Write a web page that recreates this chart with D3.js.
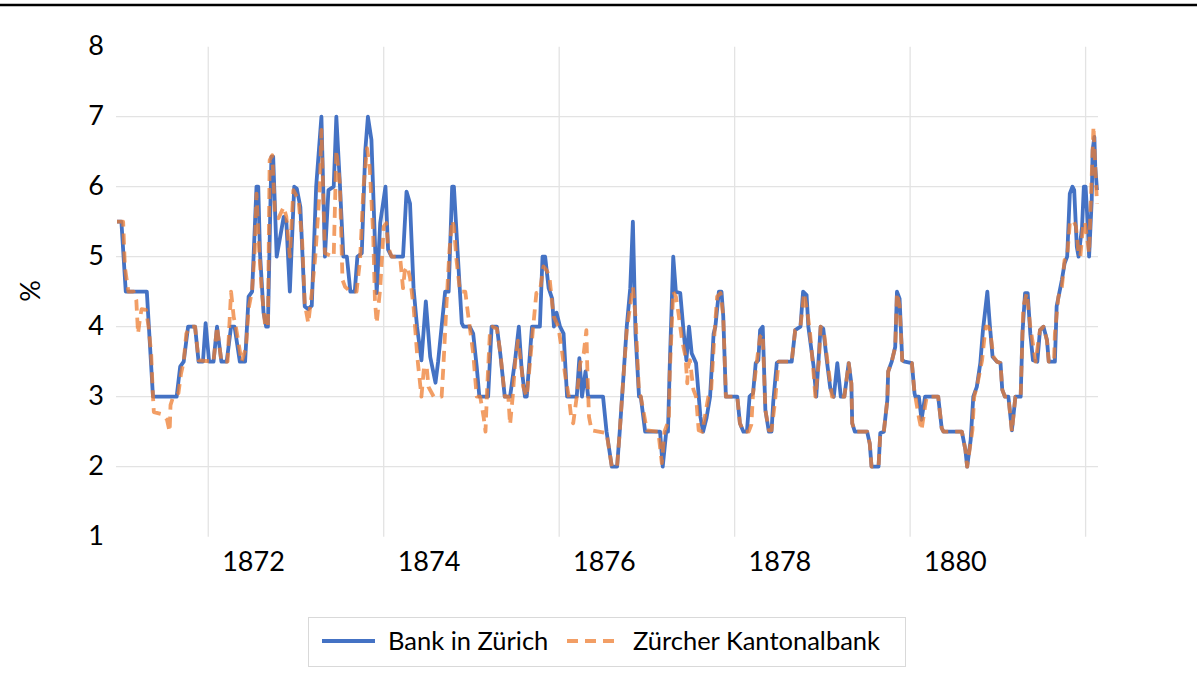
<!DOCTYPE html>
<html>
<head>
<meta charset="utf-8">
<script src="https://cdn.jsdelivr.net/npm/d3@7"></script>
<style>
	html, body { margin: 0; padding: 0; background: #ffffff; }
	svg { display: block; }
	text { font-family: Lato, "Open Sans", sans-serif; fill: #000000; }
</style>
</head>
<body>
<svg id="chart" width="1197" height="691"></svg>
<script>

// Bank in Zürich, discount rate in %, sampled at fractional years
const bankYears = [
	1870.45, 1870.50, 1870.55, 1870.79, 1870.86, 1871.13, 1871.17, 1871.21, 1871.26, 1871.34,
	1871.38, 1871.43, 1871.46, 1871.50, 1871.55, 1871.59, 1871.64, 1871.70, 1871.75, 1871.79,
	1871.85, 1871.91, 1871.95, 1871.99, 1872.04, 1872.06, 1872.08, 1872.12, 1872.15, 1872.17,
	1872.21, 1872.23, 1872.27, 1872.35, 1872.38, 1872.42, 1872.47, 1872.50, 1872.54, 1872.59,
	1872.63, 1872.67, 1872.72, 1872.78, 1872.82, 1872.86, 1872.92, 1872.95, 1872.99, 1873.03,
	1873.07, 1873.11, 1873.16, 1873.19, 1873.24, 1873.28, 1873.31, 1873.35, 1873.41, 1873.45,
	1873.51, 1873.54, 1873.58, 1873.71, 1873.75, 1873.79, 1873.83, 1873.87, 1873.92, 1873.97,
	1874.02, 1874.08, 1874.11, 1874.19, 1874.23, 1874.27, 1874.29, 1874.34, 1874.38, 1874.40,
	1874.47, 1874.51, 1874.55, 1874.58, 1874.68, 1874.72, 1874.78, 1874.82, 1874.87, 1874.93,
	1874.99, 1875.03, 1875.06, 1875.10, 1875.12, 1875.18, 1875.27, 1875.30, 1875.33, 1875.37,
	1875.41, 1875.43, 1875.46, 1875.50, 1875.54, 1875.58, 1875.69, 1875.72, 1875.75, 1875.79,
	1875.82, 1875.99, 1876.03, 1876.09, 1876.15, 1876.18, 1876.22, 1876.26, 1876.30, 1876.33,
	1876.36, 1876.40, 1876.42, 1876.47, 1876.64, 1876.67, 1876.71, 1876.73, 1876.75, 1876.79,
	1876.82, 1876.87, 1876.91, 1876.94, 1876.97, 1877.00, 1877.05, 1877.10, 1877.13, 1877.17,
	1877.21, 1877.25, 1877.27, 1877.31, 1877.34, 1877.36, 1877.39, 1877.52, 1877.55, 1877.59,
	1877.63, 1877.66, 1877.70, 1877.73, 1877.76, 1877.78, 1877.81, 1877.84, 1877.88, 1877.91,
	1877.93, 1877.97, 1877.99, 1878.14, 1878.18, 1878.24, 1878.27, 1878.31, 1878.33, 1878.39,
	1878.42, 1878.47, 1878.50, 1878.54, 1878.58, 1878.62, 1878.66, 1878.70, 1878.74, 1878.79,
	1878.82, 1878.83, 1878.86, 1879.00, 1879.03, 1879.05, 1879.13, 1879.15, 1879.19, 1879.23,
	1879.24, 1879.28, 1879.32, 1879.34, 1879.37, 1879.40, 1879.43, 1879.51, 1879.54, 1879.55,
	1879.59, 1879.62, 1879.66, 1879.81, 1879.85, 1879.87, 1880.08, 1880.12, 1880.14, 1880.18,
	1880.21, 1880.25, 1880.29, 1880.32, 1880.37, 1880.40, 1880.43, 1880.48, 1880.52, 1880.54,
	1880.57, 1880.61, 1880.65, 1880.69, 1880.75, 1880.77, 1880.80, 1880.83, 1880.86, 1880.89,
	1880.94, 1880.97, 1881.01, 1881.05, 1881.07, 1881.14, 1881.16, 1881.19, 1881.22, 1881.25,
	1881.28, 1881.31, 1881.34, 1881.36, 1881.39, 1881.41, 1881.45, 1881.47, 1881.49, 1881.52,
	1881.53, 1881.56, 1881.57, 1881.59, 1881.60, 1881.62
];
const bankRates = [
	5.5, 5.5, 4.5, 4.5, 3.0, 3.0, 3.43, 3.5, 4.0, 4.0,
	3.5, 3.5, 4.05, 3.5, 3.5, 4.0, 3.5, 3.5, 4.0, 4.0,
	3.5, 3.5, 4.43, 4.5, 6.0, 6.0, 5.05, 4.2, 4.0, 4.0,
	6.43, 6.43, 5.0, 5.57, 5.5, 4.5, 6.0, 5.97, 5.71, 4.29,
	4.25, 4.3, 6.0, 7.0, 5.0, 5.95, 6.0, 7.0, 6.05, 5.0,
	5.0, 4.5, 4.5, 5.0, 5.05, 6.52, 7.0, 6.67, 4.48, 5.48,
	6.0, 5.1, 5.0, 5.0, 5.93, 5.76, 4.55, 4.0, 3.52, 4.36,
	3.57, 3.2, 3.5, 4.5, 4.5, 6.0, 6.0, 4.9, 4.05, 4.0,
	4.0, 3.9, 3.43, 3.0, 3.0, 4.0, 4.0, 3.6, 3.0, 3.0,
	3.55, 4.0, 3.43, 3.0, 3.0, 4.0, 4.0, 5.0, 5.0, 4.55,
	4.4, 4.0, 4.2, 4.0, 3.9, 3.0, 3.0, 3.55, 3.0, 3.36,
	3.0, 3.0, 2.5, 2.0, 2.0, 2.5, 3.24, 4.0, 4.55, 5.5,
	3.9, 3.0, 3.0, 2.5, 2.5, 2.0, 2.5, 2.5, 3.43, 5.0,
	4.5, 4.48, 3.9, 3.52, 4.0, 3.62, 3.48, 2.71, 2.5, 2.7,
	3.0, 3.9, 4.0, 4.5, 4.5, 4.15, 3.0, 3.0, 2.62, 2.5,
	2.5, 3.0, 3.05, 3.48, 3.52, 3.95, 4.0, 2.81, 2.5, 2.5,
	2.93, 3.48, 3.5, 3.5, 3.95, 4.0, 4.5, 4.45, 4.0, 3.43,
	3.0, 4.0, 3.97, 3.52, 3.12, 3.0, 3.48, 3.0, 3.0, 3.48,
	3.19, 2.62, 2.5, 2.5, 2.33, 2.0, 2.0, 2.48, 2.5, 2.95,
	3.36, 3.5, 3.71, 4.5, 4.4, 3.52, 3.5, 3.48, 3.05, 3.0,
	3.0, 2.67, 3.0, 3.0, 2.55, 2.5, 2.5, 2.24, 2.0, 2.38,
	3.0, 3.14, 3.48, 3.95, 4.5, 4.0, 3.57, 3.5, 3.48, 3.1,
	3.0, 3.0, 2.52, 3.0, 3.0, 3.9, 4.48, 4.48, 3.9, 3.52,
	3.5, 3.95, 4.0, 3.81, 3.5, 3.5, 4.29, 4.48, 4.67, 4.9,
	5.0, 5.9, 6.0, 5.95, 5.14, 5.0, 5.43, 6.0, 6.0, 5.33,
	5.0, 5.81, 6.52, 6.71, 6.29, 5.95
];

// Zürcher Kantonalbank
const kantYears = [
	1870.45, 1870.52, 1870.54, 1870.58, 1870.64, 1870.67, 1870.69, 1870.71, 1870.73, 1870.78,
	1870.81, 1870.84, 1870.86, 1870.87, 1870.96, 1871.02, 1871.05, 1871.06, 1871.09, 1871.15,
	1871.18, 1871.21, 1871.24, 1871.28, 1871.34, 1871.38, 1871.55, 1871.59, 1871.64, 1871.71,
	1871.75, 1871.78, 1871.81, 1871.87, 1871.92, 1871.95, 1871.99, 1872.02, 1872.04, 1872.07,
	1872.10, 1872.14, 1872.17, 1872.19, 1872.22, 1872.25, 1872.29, 1872.35, 1872.38, 1872.42,
	1872.46, 1872.52, 1872.56, 1872.59, 1872.63, 1872.67, 1872.71, 1872.76, 1872.78, 1872.82,
	1872.92, 1872.95, 1872.99, 1873.02, 1873.05, 1873.11, 1873.18, 1873.22, 1873.26, 1873.30,
	1873.33, 1873.37, 1873.39, 1873.41, 1873.45, 1873.49, 1873.52, 1873.54, 1873.58, 1873.64,
	1873.68, 1873.71, 1873.73, 1873.76, 1873.79, 1873.83, 1873.87, 1873.88, 1873.92, 1873.95,
	1873.98, 1874.00, 1874.06, 1874.15, 1874.17, 1874.21, 1874.24, 1874.27, 1874.29, 1874.32,
	1874.36, 1874.42, 1874.44, 1874.47, 1874.51, 1874.55, 1874.59, 1874.63, 1874.65, 1874.67,
	1874.70, 1874.73, 1874.78, 1874.82, 1874.87, 1874.91, 1874.93, 1874.96, 1874.99, 1875.02,
	1875.06, 1875.08, 1875.12, 1875.16, 1875.19, 1875.23, 1875.27, 1875.31, 1875.35, 1875.38,
	1875.41, 1875.43, 1875.48, 1875.52, 1875.56, 1875.60, 1875.63, 1875.65, 1875.69, 1875.73,
	1875.77, 1875.80, 1875.81, 1875.83, 1875.86, 1875.94, 1876.03, 1876.09, 1876.15, 1876.18,
	1876.22, 1876.26, 1876.33, 1876.36, 1876.40, 1876.42, 1876.49, 1876.62, 1876.66, 1876.69,
	1876.74, 1876.75, 1876.79, 1876.82, 1876.85, 1876.89, 1876.93, 1876.95, 1876.96, 1876.98,
	1877.02, 1877.05, 1877.08, 1877.12, 1877.15, 1877.19, 1877.22, 1877.26, 1877.29, 1877.33,
	1877.36, 1877.39, 1877.52, 1877.55, 1877.59, 1877.65, 1877.68, 1877.70, 1877.74, 1877.78,
	1877.81, 1877.84, 1877.88, 1877.91, 1877.95, 1877.99, 1878.14, 1878.18, 1878.24, 1878.28,
	1878.32, 1878.35, 1878.39, 1878.41, 1878.45, 1878.47, 1878.51, 1878.55, 1878.60, 1878.74,
	1878.79, 1878.82, 1878.83, 1878.86, 1879.00, 1879.03, 1879.05, 1879.13, 1879.15, 1879.19,
	1879.23, 1879.24, 1879.28, 1879.32, 1879.34, 1879.37, 1879.40, 1879.43, 1879.51, 1879.54,
	1879.55, 1879.59, 1879.62, 1879.66, 1879.68, 1879.81, 1879.85, 1879.87, 1880.08, 1880.12,
	1880.14, 1880.20, 1880.22, 1880.26, 1880.31, 1880.35, 1880.38, 1880.40, 1880.44, 1880.48,
	1880.52, 1880.54, 1880.57, 1880.61, 1880.65, 1880.69, 1880.75, 1880.78, 1880.82, 1880.86,
	1880.92, 1880.97, 1881.01, 1881.05, 1881.07, 1881.13, 1881.14, 1881.18, 1881.22, 1881.25,
	1881.28, 1881.31, 1881.35, 1881.38, 1881.41, 1881.43, 1881.46, 1881.48, 1881.51, 1881.53,
	1881.55, 1881.58, 1881.60, 1881.62
];
const kantRates = [
	5.5, 5.5, 4.85, 4.5, 4.5, 4.38, 3.9, 4.1, 4.25, 4.24,
	4.0, 3.6, 3.0, 2.78, 2.75, 2.67, 2.5, 2.88, 3.0, 3.05,
	3.33, 3.5, 3.9, 4.0, 4.0, 3.52, 3.5, 4.0, 3.5, 3.5,
	4.5, 4.14, 3.96, 3.5, 3.7, 4.26, 4.52, 5.1, 5.9, 5.1,
	4.5, 4.0, 4.0, 6.38, 6.45, 5.62, 5.55, 5.71, 5.57, 5.0,
	5.95, 5.81, 5.24, 4.33, 4.05, 4.48, 5.0, 5.95, 6.81, 5.05,
	5.0, 6.52, 6.05, 4.67, 4.57, 4.5, 4.5, 4.95, 6.0, 6.55,
	6.29, 5.33, 4.38, 4.05, 4.55, 5.43, 5.48, 5.14, 5.0, 5.0,
	4.95, 4.55, 4.8, 4.86, 4.7, 4.29, 3.62, 3.48, 3.0, 3.43,
	3.43, 3.14, 3.0, 3.0, 3.43, 4.43, 5.1, 5.52, 5.43, 4.95,
	4.5, 4.5, 4.29, 4.0, 3.62, 3.0, 3.0, 2.7, 2.5, 3.14,
	3.9, 4.0, 3.97, 3.62, 3.0, 3.0, 2.6, 3.0, 3.52, 3.8,
	3.43, 3.14, 3.0, 3.52, 3.95, 4.48, 4.5, 4.86, 4.8, 4.7,
	4.33, 4.14, 4.0, 3.67, 3.29, 3.0, 2.67, 2.62, 3.0, 3.48,
	3.62, 3.95, 3.43, 2.71, 2.52, 2.5, 2.48, 2.0, 2.0, 2.5,
	3.24, 3.95, 4.57, 4.14, 3.05, 3.0, 2.52, 2.5, 2.05, 2.5,
	2.67, 3.33, 4.5, 4.43, 4.19, 3.81, 3.57, 3.19, 3.43, 3.52,
	3.1, 3.0, 2.52, 2.5, 2.71, 3.0, 3.05, 3.9, 4.43, 4.48,
	4.15, 3.0, 3.0, 2.62, 2.5, 2.5, 2.6, 3.05, 3.48, 3.86,
	3.9, 2.81, 2.52, 2.52, 2.93, 3.5, 3.5, 3.95, 4.0, 4.48,
	4.2, 3.9, 3.33, 3.0, 3.5, 4.0, 3.9, 3.48, 3.0, 3.0,
	3.48, 3.19, 2.62, 2.5, 2.5, 2.33, 2.0, 2.0, 2.48, 2.5,
	2.95, 3.36, 3.5, 3.71, 4.48, 4.3, 3.52, 3.5, 3.48, 3.05,
	3.0, 2.7, 2.52, 2.86, 3.0, 3.0, 2.55, 2.5, 2.5, 2.24,
	2.0, 2.52, 3.0, 3.2, 3.52, 4.0, 4.0, 3.95, 3.57, 3.5,
	3.48, 3.1, 3.0, 3.0, 2.5, 3.0, 3.0, 4.29, 4.48, 4.0,
	3.5, 3.95, 4.0, 3.8, 3.5, 3.5, 3.9, 4.43, 4.57, 4.95,
	5.0, 5.48, 5.52, 5.43, 5.05, 5.0, 5.43, 5.5, 5.24, 5.05,
	5.81, 6.86, 6.29, 5.76
];

const yTicks = [1, 2, 3, 4, 5, 6, 7, 8];
const yGridValues = [2, 3, 4, 5, 6, 7];
const xLabelYears = [1872, 1874, 1876, 1878, 1880];
const xGridYears = [1871.49, 1873.49, 1875.49, 1877.49, 1879.49, 1881.49];
const seriesNames = ['Bank in Zürich', 'Zürcher Kantonalbank'];

const chartRender = new function()
{
	const _blue = '#4472C4';
	const _orange = '#ED7D31';
	const _orangeOpacity = 0.75;
	const _grid = '#E3E3E3';
	const _lineWidth = 3.8;
	const _dash = '11,7';

	this.render = function(svgElement)
	{
		const svg = d3.select(svgElement);

		const x = d3.scaleLinear().domain([1870.45, 1881.62]).range([117, 1097]);
		const y = d3.scaleLinear().domain([1, 8]).range([536.7, 46.7]);

		svg.append('rect')
			.attr('width', 1197).attr('height', 691)
			.attr('fill', '#ffffff');

		// border line across the top
		svg.append('line')
			.attr('x1', 0).attr('x2', 1197)
			.attr('y1', 5).attr('y2', 5)
			.attr('stroke', '#000000')
			.attr('stroke-width', 2.4);

		// horizontal gridlines
		svg.append('g').selectAll('line')
			.data(yGridValues)
			.join('line')
			.attr('x1', 116).attr('x2', 1098)
			.attr('y1', (d)=>y(d)).attr('y2', (d)=>y(d))
			.attr('stroke', _grid)
			.attr('stroke-width', 1.3);

		// vertical gridlines
		svg.append('g').selectAll('line')
			.data(xGridYears)
			.join('line')
			.attr('x1', (d)=>x(d)).attr('x2', (d)=>x(d))
			.attr('y1', y(8)).attr('y2', y(1))
			.attr('stroke', _grid)
			.attr('stroke-width', 1.3);

		// y axis labels
		const yAxis = d3.axisLeft(y).tickValues(yTicks).tickSize(0).tickPadding(0).tickFormat(d3.format('d'));
		const yAxisGroup = svg.append('g')
			.attr('transform', 'translate(104,0)')
			.call(yAxis);
		yAxisGroup.select('.domain').remove();
		yAxisGroup.selectAll('text')
			.attr('font-size', 27)
			.attr('font-family', 'Lato, sans-serif')
			.attr('fill', '#000000')
			.attr('dy', '0.28em');

		// x axis labels
		const xAxis = d3.axisBottom(x).tickValues(xLabelYears).tickSize(0).tickPadding(0).tickFormat(d3.format('d'));
		const xAxisGroup = svg.append('g')
			.attr('transform', 'translate(0,552)')
			.call(xAxis);
		xAxisGroup.select('.domain').remove();
		xAxisGroup.selectAll('text')
			.attr('font-size', 27)
			.attr('font-family', 'Lato, sans-serif')
			.attr('fill', '#000000')
			.attr('dy', '0.72em');

		// y axis title
		svg.append('text')
			.attr('transform', 'translate(40,291) rotate(-90)')
			.attr('text-anchor', 'middle')
			.attr('font-size', 27)
			.text('%');

		const line = d3.line().x( (d)=>x(d[0]) ).y( (d)=>y(d[1]) );
		const bankPoints = bankYears.map( (t, i)=>[t, bankRates[i]] );
		const kantPoints = kantYears.map( (t, i)=>[t, kantRates[i]] );

		svg.append('path')
			.attr('d', line(bankPoints))
			.attr('fill', 'none')
			.attr('stroke', _blue)
			.attr('stroke-width', _lineWidth)
			.attr('stroke-linejoin', 'round');

		svg.append('path')
			.attr('d', line(kantPoints))
			.attr('fill', 'none')
			.attr('stroke', _orange)
			.attr('stroke-opacity', _orangeOpacity)
			.attr('stroke-width', _lineWidth)
			.attr('stroke-dasharray', _dash)
			.attr('stroke-linejoin', 'round');

		// legend
		const legend = svg.append('g');
		legend.append('rect')
			.attr('x', 308.5).attr('y', 617.5)
			.attr('width', 597).attr('height', 49)
			.attr('fill', '#ffffff')
			.attr('stroke', '#D9D9D9')
			.attr('stroke-width', 1);

		const legendItems = [
			{ name: seriesNames[0], color: _blue, dash: null, opacity: 1, x: 322 },
			{ name: seriesNames[1], color: _orange, dash: _dash, opacity: _orangeOpacity, x: 567 }
		];
		legendItems.forEach(function(item)
		{
			legend.append('line')
				.attr('x1', item.x).attr('x2', item.x + 53)
				.attr('y1', 641).attr('y2', 641)
				.attr('stroke', item.color)
				.attr('stroke-opacity', item.opacity)
				.attr('stroke-width', _lineWidth)
				.attr('stroke-dasharray', item.dash);
			legend.append('text')
				.attr('x', item.x + 66).attr('y', 650)
				.attr('font-size', 25.5)
				.text(item.name);
		});
	}
}

chartRender.render(document.getElementById('chart'));
</script>
</body>
</html>
